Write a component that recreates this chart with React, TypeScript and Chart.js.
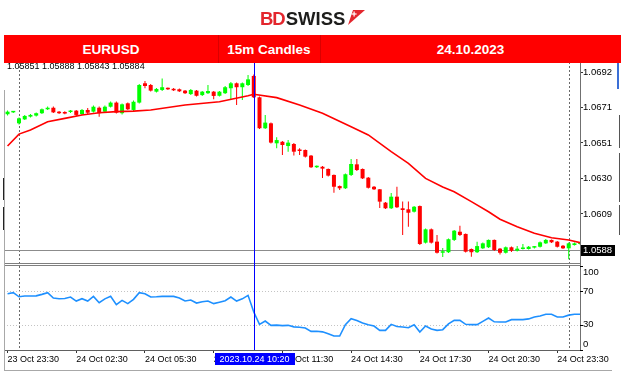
import React, { useEffect, useRef } from 'react';
import { Chart, registerables } from 'chart.js';

Chart.register(...registerables);

// ---------- DATA ----------
const firstBarIdx = -2; // bar index of first candle (23 Oct 23:30); 0 = 24 Oct 00:00

const opens = [
  1.06675, 1.06686, 1.06622, 1.06645, 1.06661, 1.06667, 1.06681, 1.06704, 1.06713, 1.06690,
  1.06688, 1.06688, 1.06696, 1.06676, 1.06700, 1.06690, 1.06713, 1.06690, 1.06719, 1.06743,
  1.06681, 1.06739, 1.06700, 1.06743, 1.06856, 1.06846, 1.06807, 1.06817, 1.06827, 1.06823,
  1.06821, 1.06813, 1.06793, 1.06813, 1.06787, 1.06798, 1.06807, 1.06783, 1.06798, 1.06827,
  1.06856, 1.06833, 1.06846, 1.06899, 1.06774, 1.06593, 1.06622, 1.06505, 1.06514, 1.06489,
  1.06501, 1.06466, 1.06466, 1.06433, 1.06365, 1.06368, 1.06355, 1.06320, 1.06255, 1.06242,
  1.06320, 1.06382, 1.06355, 1.06304, 1.06251, 1.06236, 1.06158, 1.06125, 1.06193, 1.06125,
  1.06119, 1.06105, 1.06138, 1.05924, 1.06002, 1.05930, 1.05865, 1.05868, 1.05940, 1.05988,
  1.05975, 1.05887, 1.05868, 1.05891, 1.05897, 1.05940, 1.05889, 1.05865, 1.05897, 1.05877,
  1.05887, 1.05887, 1.05895, 1.05900, 1.05920, 1.05940, 1.05930, 1.05906, 1.05891, 1.05910,
  1.05916,
];
const highs = [
  1.06697, 1.06694, 1.06656, 1.06671, 1.06676, 1.06685, 1.06709, 1.06720, 1.06720, 1.06694,
  1.06692, 1.06700, 1.06700, 1.06706, 1.06712, 1.06726, 1.06720, 1.06726, 1.06750, 1.06750,
  1.06738, 1.06744, 1.06755, 1.06852, 1.06869, 1.06852, 1.06829, 1.06884, 1.06831, 1.06829,
  1.06826, 1.06817, 1.06823, 1.06817, 1.06811, 1.06846, 1.06811, 1.06811, 1.06840, 1.06864,
  1.06861, 1.06861, 1.06905, 1.06907, 1.06779, 1.06671, 1.06627, 1.06540, 1.06519, 1.06524,
  1.06507, 1.06476, 1.06469, 1.06437, 1.06375, 1.06372, 1.06358, 1.06323, 1.06258, 1.06328,
  1.06413, 1.06413, 1.06358, 1.06308, 1.06255, 1.06238, 1.06162, 1.06214, 1.06251, 1.06164,
  1.06164, 1.06138, 1.06141, 1.06007, 1.06007, 1.05969, 1.05893, 1.05948, 1.05998, 1.06023,
  1.05978, 1.05890, 1.05930, 1.05925, 1.05942, 1.05942, 1.05893, 1.05902, 1.05902, 1.05904,
  1.05916, 1.05904, 1.05904, 1.05931, 1.05945, 1.05942, 1.05934, 1.05910, 1.05925, 1.05925,
  1.05928,
];
const lows = [
  1.06668, 1.06682, 1.06615, 1.06641, 1.06656, 1.06662, 1.06676, 1.06700, 1.06682, 1.06676,
  1.06675, 1.06682, 1.06665, 1.06671, 1.06676, 1.06685, 1.06661, 1.06685, 1.06714, 1.06679,
  1.06674, 1.06700, 1.06694, 1.06738, 1.06827, 1.06808, 1.06802, 1.06811, 1.06817, 1.06811,
  1.06805, 1.06793, 1.06787, 1.06779, 1.06782, 1.06793, 1.06762, 1.06779, 1.06793, 1.06758,
  1.06729, 1.06758, 1.06840, 1.06770, 1.06589, 1.06589, 1.06504, 1.06476, 1.06437, 1.06456,
  1.06433, 1.06437, 1.06422, 1.06361, 1.06361, 1.06302, 1.06311, 1.06216, 1.06232, 1.06238,
  1.06314, 1.06343, 1.06296, 1.06241, 1.06232, 1.06127, 1.06121, 1.06121, 1.06127, 1.05969,
  1.06017, 1.06100, 1.05910, 1.05919, 1.05919, 1.05861, 1.05840, 1.05864, 1.05934, 1.05963,
  1.05866, 1.05842, 1.05864, 1.05887, 1.05893, 1.05875, 1.05855, 1.05861, 1.05869, 1.05872,
  1.05884, 1.05884, 1.05890, 1.05896, 1.05916, 1.05922, 1.05896, 1.05887, 1.05827, 1.05907,
  1.05910,
];
const closes = [
  1.06690, 1.06690, 1.06651, 1.06665, 1.06671, 1.06681, 1.06704, 1.06713, 1.06686, 1.06681,
  1.06679, 1.06696, 1.06671, 1.06700, 1.06684, 1.06719, 1.06681, 1.06719, 1.06743, 1.06684,
  1.06733, 1.06704, 1.06748, 1.06846, 1.06840, 1.06813, 1.06823, 1.06833, 1.06821, 1.06815,
  1.06809, 1.06798, 1.06817, 1.06783, 1.06807, 1.06811, 1.06782, 1.06807, 1.06833, 1.06856,
  1.06833, 1.06856, 1.06879, 1.06774, 1.06593, 1.06626, 1.06509, 1.06524, 1.06495, 1.06509,
  1.06456, 1.06460, 1.06427, 1.06365, 1.06372, 1.06357, 1.06316, 1.06251, 1.06242, 1.06324,
  1.06384, 1.06349, 1.06300, 1.06245, 1.06236, 1.06164, 1.06125, 1.06193, 1.06131, 1.06115,
  1.06099, 1.06134, 1.05916, 1.06002, 1.05924, 1.05865, 1.05871, 1.05944, 1.05994, 1.05969,
  1.05871, 1.05868, 1.05904, 1.05920, 1.05940, 1.05881, 1.05865, 1.05897, 1.05877, 1.05889,
  1.05895, 1.05900, 1.05900, 1.05926, 1.05940, 1.05926, 1.05900, 1.05891, 1.05920, 1.05920,
  1.05924,
];
const rsiValues = [
  67.2, 68.4, 63.5, 64.4, 64.4, 64.6, 66.4, 68.4, 62, 61.2,
  61.5, 63.2, 58.4, 61.2, 58.4, 64, 56.4, 61, 64, 54,
  59.2, 55.3, 60.4, 68.4, 67.2, 63.2, 63.5, 64, 64, 64,
  62, 58.4, 59.6, 56, 57.5, 58.4, 55.3, 57, 58.8, 63.2,
  58.4, 61, 65.2, 45.3, 30.5, 34.5, 29.3, 29.5, 29, 29.3,
  27.5, 27, 26.1, 22.1, 22.3, 21.5, 19.3, 16.5, 16.5, 30.1,
  37.3, 35, 32, 30.1, 28.5, 23.3, 23.3, 30.5, 28, 27.3,
  26.5, 30.1, 21.3, 28.5, 25, 23.3, 24.1, 31, 35.3, 35.3,
  30.5, 30.1, 30.1, 34.1, 38.1, 33.5, 33.3, 33.3, 36.1, 36.1,
  36.1, 37, 39.3, 40.5, 42.5, 42.5, 39.3, 39.3, 41.5, 42.5,
  42.5,
];
const maIdx = [-2, 0, 2, 5, 8, 11, 14, 17, 20, 23, 29, 35, 40, 41, 45, 49, 53, 58, 61, 65, 68, 71, 74, 76, 79, 82, 84, 87, 90, 93, 96, 98];
const maValues = [
  1.06489, 1.06559, 1.06583, 1.06631, 1.06651, 1.06671, 1.06684, 1.06690, 1.06693, 1.06700,
  1.06729, 1.06748, 1.06783, 1.06792, 1.06772, 1.06729, 1.06681, 1.06602, 1.06554, 1.06456,
  1.06388, 1.06300, 1.06250, 1.06222, 1.06164, 1.06105, 1.06061, 1.06017, 1.05979, 1.05953,
  1.05940, 1.05924,
];
const xTickIdx = [-2, 10, 22, 34, 46, 58, 70, 82, 94];
const xTickLabels = ['23 Oct 23:30', '24 Oct 02:30', '24 Oct 05:30', '24 Oct 08:30', '24 Oct 11:30', '24 Oct 14:30', '24 Oct 17:30', '24 Oct 20:30', '24 Oct 23:30'];
const priceTicks = [1.06922, 1.06714, 1.06507, 1.06299, 1.06092];
const currentPrice = 1.05884;
const ohlcText = ['1.05851', '1.05888', '1.05843', '1.05884'];
const rsiLevels = [30, 70];
const rsiLabels = [100, 70, 30, 0];
const daySeparators = [0, 96];
const crosshairIdx = 41;
const crosshairLabel = '2023.10.24 10:20';
const headerCells = ['EURUSD', '15m Candles', '24.10.2023'];

const GREEN = '#00ff00';
const RED = '#ff0000';
const FONT = '"Liberation Sans", Arial, sans-serif';

const mt4Plugin = {
  id: 'mt4',
  beforeDatasetsDraw(chart: any) {
    const { ctx, chartArea, scales } = chart;
    const { left, right, top, bottom } = chartArea;
    const x = scales.x, y = scales.y, rsi = scales.rsi;
    ctx.save();
    ctx.lineWidth = 1;
    ctx.strokeStyle = '#6a6a6a';
    ctx.setLineDash([2, 2]);
    for (const d of daySeparators) {
      const px = Math.round(x.getPixelForValue(d)) + 0.5;
      ctx.beginPath(); ctx.moveTo(px, top); ctx.lineTo(px, bottom); ctx.stroke();
    }
    ctx.strokeStyle = '#c4c4c4';
    ctx.setLineDash([1, 2]);
    for (const l of rsiLevels) {
      const py = Math.round(rsi.getPixelForValue(l)) + 0.5;
      ctx.beginPath(); ctx.moveTo(left, py); ctx.lineTo(right, py); ctx.stroke();
    }
    ctx.setLineDash([]);
    ctx.strokeStyle = '#8c8c8c';
    const pp = Math.round(y.getPixelForValue(currentPrice)) + 0.5;
    ctx.beginPath(); ctx.moveTo(left, pp); ctx.lineTo(right, pp); ctx.stroke();
    ctx.restore();
  },
  afterDraw(chart: any) {
    const { ctx, chartArea, scales } = chart;
    const { left, right, top, bottom } = chartArea;
    const x = scales.x, y = scales.y, rsi = scales.rsi;
    ctx.save();
    // panel separator
    const rT = Math.round(rsi.getPixelForValue(100));
    ctx.fillStyle = '#7f7f7f';
    ctx.fillRect(left, rT - 3, right - left, 1);
    ctx.fillRect(left, rT - 1, right - left, 1);
    // frame
    ctx.fillStyle = '#a8a8a8';
    ctx.fillRect(left, top + 28, 1, 371 - top - 28);
    ctx.fillRect(left, 370, 612 - left, 1);
    ctx.fillStyle = '#222';
    ctx.fillRect(left - 1, 178, 1, 22);
    ctx.fillRect(left - 1, 207, 1, 23);
    // right window edge
    ctx.fillStyle = '#3b6fd6';
    ctx.fillRect(617, top + 1, 2, 26);
    ctx.fillStyle = '#555';
    ctx.fillRect(619, 115, 1, 33);
    ctx.fillRect(619, 153, 1, 49);
    ctx.fillRect(619, 205, 1, 30);
    // crosshair
    const cx = Math.round(x.getPixelForValue(crosshairIdx)) + 0.5;
    ctx.strokeStyle = '#0000ff';
    ctx.lineWidth = 1;
    ctx.beginPath(); ctx.moveTo(cx, top); ctx.lineTo(cx, bottom); ctx.stroke();
    ctx.font = `9px ${FONT}`;
    const tw = ctx.measureText(crosshairLabel).width;
    const bw = Math.round(tw + 10);
    ctx.fillStyle = '#0000ff';
    ctx.fillRect(Math.round(cx - bw / 2), bottom + 3, bw, 12);
    ctx.fillStyle = '#ffffff';
    ctx.textAlign = 'center';
    ctx.textBaseline = 'middle';
    ctx.fillText(crosshairLabel, cx, bottom + 9.5);
    // current price box
    const py = y.getPixelForValue(currentPrice);
    ctx.fillStyle = '#000000';
    ctx.fillRect(right + 1, Math.round(py) - 5, 34, 11);
    ctx.fillStyle = '#ffffff';
    ctx.textAlign = 'left';
    ctx.font = `9.5px ${FONT}`;
    ctx.fillText(currentPrice.toFixed(4), right + 3, Math.round(py) + 0.5);
    // RSI labels + ticks
    ctx.fillStyle = '#000000';
    for (const v of rsiLabels) {
      const p = rsi.getPixelForValue(v);
      if (v === 100) { ctx.textBaseline = 'top'; ctx.fillText(String(v), right + 3, p + 1); }
      else if (v === 0) { ctx.textBaseline = 'bottom'; ctx.fillText(String(v), right + 3, p - 0.5); }
      else { ctx.textBaseline = 'middle'; ctx.fillText(String(v), right + 3, p); }
      ctx.fillRect(right, Math.round(p), 3, 1);
    }
    // OHLC text
    ctx.font = `9px ${FONT}`;
    ctx.textBaseline = 'middle';
    ctx.fillStyle = '#000000';
    ctx.fillText(ohlcText.join(' '), left + 3, top + 4.5);
    ctx.restore();
  },
};

export default function App() {
  const ref = useRef<HTMLCanvasElement>(null);
  useEffect(() => {
    if (!ref.current) return;
    const xs = opens.map((_, i) => firstBarIdx + i);
    const colors = opens.map((o, i) => (closes[i] >= o ? GREEN : RED));
    const priceMin = currentPrice - 100.5 / 17100;
    const priceMax = currentPrice + 187.5 / 17100;
    const chart = new Chart(ref.current, {
      type: 'bar',
      data: {
        datasets: [
          {
            type: 'line',
            data: maIdx.map((v, i) => ({ x: v, y: maValues[i] })),
            yAxisID: 'y',
            borderColor: '#ff0000',
            borderWidth: 1.6,
            pointRadius: 0,
            tension: 0,
            order: 1,
          } as any,
          {
            type: 'line',
            data: rsiValues.map((v, i) => ({ x: xs[i], y: v })),
            yAxisID: 'rsi',
            borderColor: '#1e90ff',
            borderWidth: 1.6,
            pointRadius: 0,
            tension: 0,
            order: 2,
          } as any,
          {
            type: 'bar',
            data: xs.map((v, i) => ({ x: v, y: [opens[i], closes[i]] })),
            yAxisID: 'y',
            backgroundColor: colors,
            maxBarThickness: 4,
            minBarLength: 1.5,
            grouped: false,
            borderWidth: 0,
            order: 3,
          } as any,
          {
            type: 'bar',
            data: xs.map((v, i) => ({ x: v, y: [lows[i], highs[i]] })),
            yAxisID: 'y',
            backgroundColor: colors,
            maxBarThickness: 1,
            minBarLength: 1,
            grouped: false,
            borderWidth: 0,
            order: 4,
          } as any,
        ],
      },
      options: {
        responsive: false,
        maintainAspectRatio: false,
        animation: false,
        events: [],
        layout: { padding: { left: 4, top: 62, right: 0, bottom: 0 } },
        plugins: { legend: { display: false }, tooltip: { enabled: false } },
        scales: {
          x: {
            type: 'linear',
            min: -2.62,
            max: 97.97,
            offset: false,
            afterBuildTicks: (s: any) => { s.ticks = xTickIdx.map((v) => ({ value: v })); },
            afterFit: (s: any) => { s.height = 29; },
            ticks: {
              callback: (_v: any, i: number) => xTickLabels[i],
              align: 'start',
              autoSkip: false,
              maxRotation: 0,
              minRotation: 0,
              padding: 1,
              color: '#000',
              font: { family: FONT, size: 9 },
            },
            grid: { offset: false, drawOnChartArea: false, drawTicks: true, tickLength: 3, color: '#333' },
            border: { display: true, color: '#606060' },
          },
          y: {
            type: 'linear',
            position: 'right',
            weight: 1,
            min: priceMin,
            max: priceMax,
            afterBuildTicks: (s: any) => { s.ticks = priceTicks.map((v) => ({ value: v })); },
            afterFit: (s: any) => { s.width = 44; },
            ticks: {
              callback: (v: any) => Number(v).toFixed(4),
              padding: 0,
              color: '#000',
              font: { family: FONT, size: 9.5 },
            },
            grid: { drawOnChartArea: false, drawTicks: true, tickLength: 3, color: '#333' },
            border: { display: true, color: '#707070' },
          },
          rsi: {
            type: 'linear',
            position: 'right',
            display: false,
            min: -0.24,
            max: 344.7,
          },
        },
      } as any,
      plugins: [mt4Plugin],
    });
    return () => chart.destroy();
  }, []);

  const cellStyle = (left: number, width: number): React.CSSProperties => ({
    position: 'absolute', left, top: 1, width, height: 27, lineHeight: '27px', textAlign: 'center',
    color: '#fff', fontWeight: 'bold', fontSize: 13.5, fontFamily: FONT,
  });

  return (
    <div style={{ position: 'fixed', left: 0, top: 0, width: 624, height: 379, background: '#fff', overflow: 'hidden' }}>
      <canvas ref={ref} width={624} height={379} style={{ position: 'absolute', left: 0, top: 0, width: 624, height: 379 }} />
      <div style={{ position: 'absolute', left: 260, top: 8, height: 22, lineHeight: '22px', fontFamily: FONT, fontWeight: 'bold', fontSize: 18.5, whiteSpace: 'nowrap' }}>
        <span style={{ color: '#e3262d', letterSpacing: -1 }}>BD</span>
        <span style={{ color: '#1d1d1b', marginLeft: 1 }}>SWISS</span>
      </div>
      <svg style={{ position: 'absolute', left: 347, top: 10 }} width={18} height={15} viewBox="0 0 18 15">
        <polygon points="1,15 18,0 6,0" fill="#e3262d" />
        <rect x="6.5" y="1.5" width="1.2" height="5" fill="#fff" />
        <rect x="4.6" y="3.4" width="5" height="1.2" fill="#fff" />
      </svg>
      <div style={{ position: 'absolute', left: 4, top: 35, width: 617, height: 28, background: '#ff0000', zIndex: 2 }}>
        <div style={{ position: 'absolute', left: 214, top: 0, width: 1, height: 28, background: 'rgba(150,0,0,0.35)' }} />
        <div style={{ position: 'absolute', left: 316, top: 0, width: 1, height: 28, background: 'rgba(150,0,0,0.35)' }} />
        <div style={cellStyle(0, 214)}>{headerCells[0]}</div>
        <div style={cellStyle(214, 102)}>{headerCells[1]}</div>
        <div style={cellStyle(316, 301)}>{headerCells[2]}</div>
      </div>
    </div>
  );
}
